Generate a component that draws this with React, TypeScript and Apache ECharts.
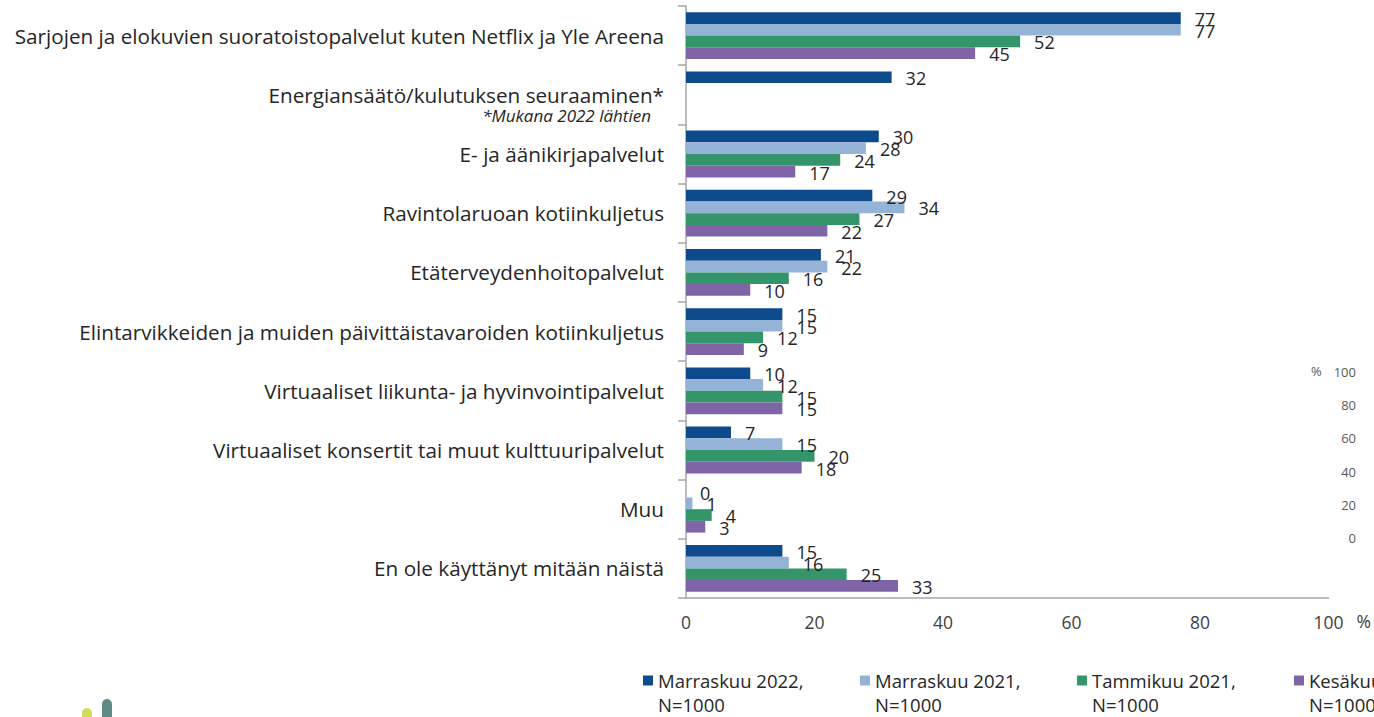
import React, { useEffect, useRef } from "react";
import * as echarts from "echarts";

const categories = [
  "Sarjojen ja elokuvien suoratoistopalvelut kuten Netflix ja Yle Areena",
  "Energiansäätö/kulutuksen seuraaminen*",
  "E- ja äänikirjapalvelut",
  "Ravintolaruoan kotiinkuljetus",
  "Etäterveydenhoitopalvelut",
  "Elintarvikkeiden ja muiden päivittäistavaroiden kotiinkuljetus",
  "Virtuaaliset liikunta- ja hyvinvointipalvelut",
  "Virtuaaliset konsertit tai muut kulttuuripalvelut",
  "Muu",
  "En ole käyttänyt mitään näistä",
];
const footnoteCategory = "Energiansäätö/kulutuksen seuraaminen*";
const footnote = "*Mukana 2022 lähtien";

const seriesNames = [
  "Marraskuu 2022, N=1000",
  "Marraskuu 2021, N=1000",
  "Tammikuu 2021, N=1000",
  "Kesäkuu 2020, N=1000",
];
const nov2022 = [77, 32, 30, 29, 21, 15, 10, 7, 0, 15];
const nov2021 = [77, null, 28, 34, 22, 15, 12, 15, 1, 16];
const jan2021 = [52, null, 24, 27, 16, 12, 15, 20, 4, 25];
const jun2020 = [45, null, 17, 22, 10, 9, 15, 18, 3, 33];
const seriesValues = [nov2022, nov2021, jan2021, jun2020];
const seriesColors = ["#0d4a8c", "#95b3d7", "#34956a", "#8064a8"];

const xTicks = [0, 20, 40, 60, 80, 100];

const FONT = "Open Sans";

export default function App() {
  const ref = useRef<HTMLDivElement>(null);
  useEffect(() => {
    if (!ref.current) return;
    const chart = echarts.init(ref.current, null, { renderer: "svg" });
    const option: any = {
      animation: false,
      textStyle: { fontFamily: FONT },
      grid: [
        { left: 686, right: 45, top: 6, bottom: 119, containLabel: false },
        { left: 1364, width: 1, top: 372, height: 166, containLabel: false },
      ],
      xAxis: [
        {
          type: "value",
          gridIndex: 0,
          min: xTicks[0],
          max: xTicks[xTicks.length - 1],
          interval: 20,
          axisLine: { show: true, lineStyle: { color: "#a6a6a6", width: 1.5 } },
          axisTick: { show: false },
          splitLine: { show: false },
          axisLabel: { margin: 15, fontSize: 17.5, color: "#404040", fontFamily: FONT },
          name: "%",
          nameLocation: "end",
          nameGap: 28,
          nameTextStyle: {
            fontSize: 17.5,
            color: "#404040",
            verticalAlign: "top",
            padding: [14, 0, 0, 0],
            fontFamily: FONT,
          },
        },
        {
          type: "value",
          gridIndex: 1,
          show: false,
          min: 0,
          max: 1,
        },
      ],
      yAxis: [
        {
          type: "category",
          gridIndex: 0,
          data: categories,
          inverse: true,
          axisLine: { show: true, lineStyle: { color: "#a6a6a6", width: 1.5 } },
          axisTick: { show: true, length: 8, lineStyle: { color: "#a6a6a6", width: 1.5 } },
          axisLabel: {
            margin: 22,
            color: "#262626",
            fontFamily: FONT,
            formatter: (v: string) =>
              v === footnoteCategory
                ? `{s| }\n{m|${v}}\n{f|${footnote}}`
                : `{m|${v}}`,
            rich: {
              s: { fontSize: 14, lineHeight: 20 },
              m: { fontSize: 20.7, lineHeight: 22, color: "#262626", fontFamily: FONT },
              f: {
                fontSize: 17,
                lineHeight: 20,
                fontStyle: "italic",
                color: "#262626",
                fontFamily: FONT,
                padding: [0, 13, 0, 0],
              },
            },
          },
        },
        {
          type: "value",
          gridIndex: 1,
          min: 0,
          max: 100,
          interval: 20,
          position: "left",
          axisLine: { show: false },
          axisTick: { show: false },
          splitLine: { show: false },
          axisLabel: {
            margin: 8,
            fontSize: 13,
            color: "#595959",
            fontFamily: FONT,
            formatter: (v: number) => (v === 100 ? `{p|%}${v}` : `${v}`),
            rich: { p: { fontSize: 13, color: "#595959", padding: [0, 12, 3, 0] } },
          },
        },
      ],
      legend: {
        left: 643,
        top: 671,
        width: 1000,
        padding: 0,
        itemGap: 5,
        itemWidth: 10,
        itemHeight: 34,
        icon: "path://M0,0L10,0L10,10L0,10Z M0,34L10,34",
        data: seriesNames,
        formatter: (name: string) => {
          const parts = name.split(", ");
          return `{a|${parts[0]},}\n{a|${parts[1]}}`;
        },
        textStyle: {
          fontSize: 18.5,
          color: "#262626",
          fontFamily: FONT,
          rich: { a: { width: 197, fontSize: 18.5, lineHeight: 24, color: "#262626", fontFamily: FONT } },
        },
      },
      graphic: [
        { type: "rect", shape: { x: 82, y: 708, width: 10, height: 24, r: 5 }, style: { fill: "#cfdc5c" } },
        { type: "rect", shape: { x: 102, y: 699, width: 10, height: 34, r: 5 }, style: { fill: "#5f8b86" } },
      ],
      series: seriesNames.map((name, i) => ({
        name,
        type: "bar",
        xAxisIndex: 0,
        yAxisIndex: 0,
        data: seriesValues[i],
        barGap: "0%",
        barCategoryGap: "21%",
        itemStyle: { color: seriesColors[i] },
        label: {
          show: true,
          position: "right",
          distance: 14,
          offset: [0, 1],
          fontSize: 18,
          color: "#262626",
          fontFamily: FONT,
        },
      })),
    };
    chart.setOption(option);
    return () => chart.dispose();
  }, []);
  return (
    <div
      ref={ref}
      style={{ position: "fixed", left: 0, top: 0, width: 1374, height: 717, background: "#fff" }}
    />
  );
}
